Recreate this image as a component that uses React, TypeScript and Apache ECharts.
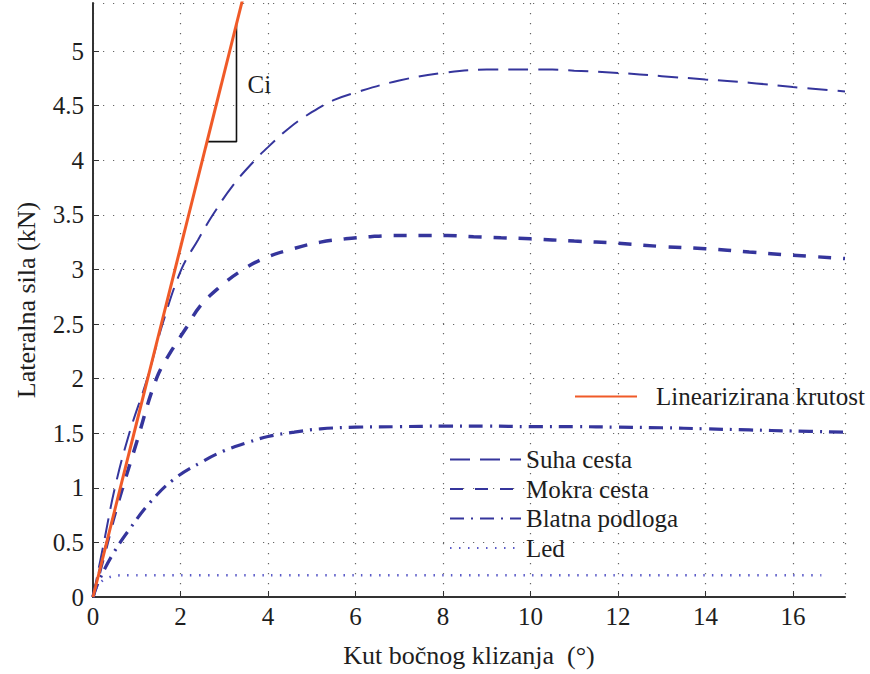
import React, { useEffect, useRef } from "react";
import * as echarts from "echarts";

const xTicks = [0, 2, 4, 6, 8, 10, 12, 14, 16];
const yTicks = [0, 0.5, 1, 1.5, 2, 2.5, 3, 3.5, 4, 4.5, 5];

const suhaX = [0, 0.25, 0.5, 0.83, 1.24, 1.59, 2.02, 2.4, 2.74, 3.2, 3.7, 4, 4.5, 5, 5.5, 6, 7, 8, 9, 10, 10.5, 11, 12, 13, 14, 15, 16, 17.19];
const suhaY = [0, 0.5, 1.0, 1.5, 2.0, 2.5, 3.0, 3.27, 3.5, 3.77, 4.0, 4.12, 4.3, 4.44, 4.55, 4.62, 4.73, 4.8, 4.83, 4.83, 4.83, 4.82, 4.8, 4.77, 4.74, 4.71, 4.67, 4.63];

const mokraX = [0, 0.25, 0.5, 1, 1.45, 1.8, 2.14, 2.44, 2.9, 3.36, 3.9, 4.58, 5.2, 5.77, 6.34, 6.87, 7.5, 8.1, 8.7, 9.33, 10, 11, 12, 13, 14, 15, 16, 17.19];
const mokraY = [0, 0.38, 0.76, 1.42, 2.0, 2.26, 2.47, 2.66, 2.84, 2.98, 3.1, 3.19, 3.25, 3.28, 3.3, 3.31, 3.31, 3.31, 3.3, 3.29, 3.28, 3.26, 3.24, 3.21, 3.19, 3.16, 3.13, 3.1];

const blatnaX = [0, 0.15, 0.48, 0.87, 1.29, 1.82, 2.5, 3, 3.5, 4, 4.6, 5.2, 6, 7, 8, 9, 10, 11, 12, 13, 14, 15, 16, 17.19];
const blatnaY = [0, 0.16, 0.41, 0.64, 0.86, 1.07, 1.24, 1.34, 1.41, 1.47, 1.51, 1.54, 1.555, 1.56, 1.565, 1.565, 1.56, 1.56, 1.555, 1.55, 1.54, 1.53, 1.52, 1.51];

const ledX = [0, 0.1, 0.25, 0.45, 0.7, 1, 2, 4, 6, 8, 10, 12, 14, 16, 16.65];
const ledY = [0, 0.1, 0.16, 0.19, 0.2, 0.2, 0.2, 0.2, 0.2, 0.2, 0.2, 0.2, 0.2, 0.2, 0.2];

const linX = [0, 3.45];
const linY = [0, 5.52];

const triX = [2.6, 3.28, 3.28];
const triY = [4.17, 4.17, 5.25];
const ciLabel = "Ci";
const ciCoord = [3.42, 4.69];

const names = ["Linearizirana krutost", "Suha cesta", "Mokra cesta", "Blatna podloga", "Led"];

const zip = (xs: number[], ys: number[]) => xs.map((x, i) => [x, ys[i]]);

const FONT = "Liberation Serif";
const BLUE = "#35359c";
const TXT = "#1e1e1e";

export default function App() {
  const ref = useRef<HTMLDivElement>(null);
  useEffect(() => {
    document.body.style.margin = "0";
    if (!ref.current) return;
    const chart = echarts.init(ref.current, undefined, { renderer: "svg" });
    const legendText = { fontFamily: FONT, fontSize: 25, color: TXT, lineHeight: 25 };
    chart.setOption({
      animation: false,
      backgroundColor: "#fff",
      textStyle: { fontFamily: FONT },
      grid: { left: 93, right: 25, top: 3, bottom: 77, containLabel: false },
      legend: [
        {
          data: [names[0]],
          left: 569,
          top: 379,
          itemWidth: 62,
          itemHeight: 14,
          itemStyle: { opacity: 0 },
          textStyle: { ...legendText, padding: [0, 0, 0, 14] },
        },
        {
          data: names.slice(1),
          orient: "vertical",
          left: 444,
          top: 442,
          itemWidth: 71,
          itemHeight: 14,
          itemGap: 4.5,
          itemStyle: { opacity: 0 },
          textStyle: legendText,
        },
      ],
      xAxis: {
        type: "value",
        min: 0,
        max: 17.19,
        interval: 2,
        name: "Kut bočnog klizanja  (°)",
        nameLocation: "middle",
        nameGap: 45,
        nameTextStyle: { fontFamily: FONT, fontSize: 26, color: TXT },
        axisLine: { show: true, lineStyle: { color: "#333", width: 2 } },
        axisTick: { show: true, inside: true, length: 6, lineStyle: { color: "#333", width: 1 } },
        axisLabel: {
          fontFamily: FONT,
          fontSize: 25,
          color: TXT,
          margin: 7,
          showMaxLabel: false,
          formatter: (v: number) => (xTicks.includes(v) ? String(v) : ""),
        },
        splitLine: { show: true, lineStyle: { color: "#666", width: 1.2, type: [1.2, 8.8] } },
      },
      yAxis: {
        type: "value",
        min: 0,
        max: 5.44,
        interval: 0.5,
        name: "Lateralna sila (kN)",
        nameLocation: "middle",
        nameGap: 54,
        nameTextStyle: { fontFamily: FONT, fontSize: 26, color: TXT },
        axisLine: { show: true, lineStyle: { color: "#333", width: 2 } },
        axisTick: { show: true, inside: true, length: 6, lineStyle: { color: "#333", width: 1 } },
        axisLabel: {
          fontFamily: FONT,
          fontSize: 25,
          color: TXT,
          margin: 9,
          showMaxLabel: false,
          formatter: (v: number) => (yTicks.includes(v) ? String(v) : ""),
        },
        splitLine: { show: true, lineStyle: { color: "#666", width: 1.2, type: [1.2, 8.8] } },
      },
      series: [
        {
          name: names[0],
          type: "line",
          data: zip(linX, linY),
          symbol: "none",
          clip: true,
          lineStyle: { color: "#f05a28", width: 3 },
          itemStyle: { color: "#f05a28" },
          z: 5,
        },
        {
          name: names[1],
          type: "line",
          data: zip(suhaX, suhaY),
          symbol: "none",
          smooth: 0.4,
          lineStyle: { color: BLUE, width: 2, type: [20, 10] },
          itemStyle: { color: BLUE },
        },
        {
          name: names[2],
          type: "line",
          data: zip(mokraX, mokraY),
          symbol: "none",
          smooth: 0.4,
          lineStyle: { color: BLUE, width: 3.5, type: [13, 12] },
          itemStyle: { color: BLUE },
        },
        {
          name: names[3],
          type: "line",
          data: zip(blatnaX, blatnaY),
          symbol: "none",
          smooth: 0.4,
          lineStyle: { color: BLUE, width: 3.2, type: [14, 7, 2, 7] },
          itemStyle: { color: BLUE },
        },
        {
          name: names[4],
          type: "line",
          data: zip(ledX, ledY),
          symbol: "none",
          smooth: 0.3,
          lineStyle: { color: "#5a5ac8", width: 2.5, type: [1.5, 7.5] },
          itemStyle: { color: "#5a5ac8" },
        },
        {
          name: "triangle",
          type: "line",
          data: zip(triX, triY),
          symbol: "none",
          silent: true,
          lineStyle: { color: "#111", width: 1.6 },
          markPoint: {
            symbol: "circle",
            symbolSize: 0,
            data: [{ coord: ciCoord, value: ciLabel }],
            label: {
              show: true,
              position: "right",
              formatter: ciLabel,
              fontFamily: FONT,
              fontSize: 25,
              color: TXT,
            },
          },
        },
      ],
    });
    return () => chart.dispose();
  }, []);
  return <div ref={ref} style={{ width: 870, height: 674 }} />;
}
